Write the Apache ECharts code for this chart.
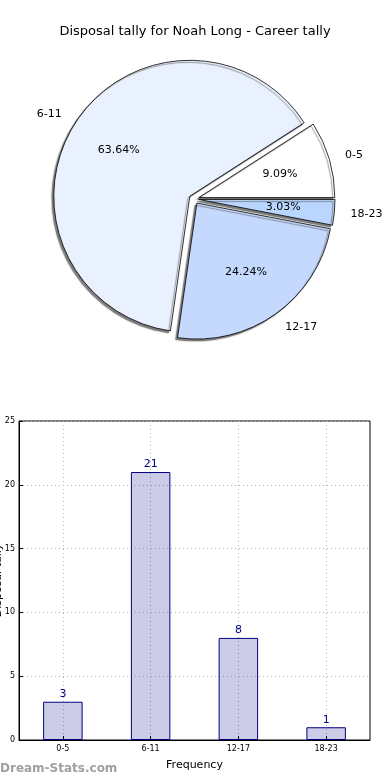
<!DOCTYPE html>
<html>
<head>
<meta charset="utf-8">
<script src="https://cdn.jsdelivr.net/npm/echarts@6/dist/echarts.min.js"></script>
<style>
html,body{margin:0;padding:0;background:#fff;}
#c{width:390px;height:780px;}
</style>
</head>
<body>
<div id="c"></div>
<script>
const categories = ['0-5', '6-11', '12-17', '18-23'];
const counts = [3, 21, 8, 1];
const sliceColors = ['#ffffff', '#eaf1fe', '#c5d9fe', '#b9d6fe'];
const yTicks = [0, 5, 10, 15, 20, 25];
const titleText = 'Disposal tally for Noah Long - Career tally';

const FONT = 'DejaVu Sans';
const chart = echarts.init(document.getElementById('c'), null, {renderer: 'canvas'});

const pieCenter = [194, 199];
const R = 136;
const pieData = categories.map((c, i) => ({
  name: c, value: counts[i], selected: true,
  itemStyle: {color: sliceColors[i]}
}));
const ghostData = categories.map((c, i) => ({
  name: c, value: counts[i], selected: true,
  itemStyle: {color: 'rgba(0,0,0,0)', borderWidth: 0, shadowBlur: 0}
}));

const common = {
  type: 'pie', center: pieCenter, startAngle: 0, clockwise: false,
  selectedMode: 'multiple', selectedOffset: 5, animation: false,
  avoidLabelOverlap: false, emphasis: {disabled: true}
};

chart.setOption({
  animation: false,
  title: {
    text: titleText, left: 'center', top: 20,
    textStyle: {fontFamily: FONT, fontSize: 13, fontWeight: 'normal', color: '#000'}
  },
  graphic: [{
    type: 'text', left: 0, top: 763,
    style: {text: 'Dream-Stats.com', fill: '#a0a0a0', font: 'bold 12px "DejaVu Sans"'}
  }],
  grid: {left: 19, right: 20, top: 421, bottom: 40, show: true, borderColor: '#000', borderWidth: 1,
    containLabel: false, outerBoundsMode: 'none'},
  xAxis: {
    type: 'category', data: categories,
    name: 'Frequency', nameLocation: 'middle', nameGap: 20,
    nameTextStyle: {fontFamily: FONT, fontSize: 11, color: '#000'},
    axisLine: {lineStyle: {color: '#000', width: 1}},
    axisTick: {show: true, inside: true, length: 4, alignWithLabel: true, lineStyle: {color: '#000'}},
    axisLabel: {fontFamily: FONT, fontSize: 8, color: '#000', margin: 5},
    splitLine: {show: true, alignWithLabel: true, lineStyle: {color: '#b8b8b8', type: [1, 3], width: 1}}
  },
  yAxis: {
    type: 'value', min: 0, max: 25, interval: 5,
    name: 'Disposal tally', nameLocation: 'middle', nameGap: 15, nameRotate: 90,
    nameMoveOverlap: false,
    nameTextStyle: {fontFamily: FONT, fontSize: 11, color: '#000'},
    axisLine: {show: true, lineStyle: {color: '#000', width: 1}},
    axisTick: {show: true, inside: true, length: 4, lineStyle: {color: '#000'}},
    axisLabel: {fontFamily: FONT, fontSize: 8, color: '#000', margin: 4,
      formatter: v => yTicks.includes(v) ? String(v) : ''},
    splitLine: {show: true, lineStyle: {color: '#b8b8b8', type: [1, 3], width: 1}}
  },
  series: [
    Object.assign({}, common, {
      name: 'pie', radius: [0, R], data: pieData,
      label: {show: false}, labelLine: {show: false},
      itemStyle: {borderColor: '#000', borderWidth: 0.8,
        shadowColor: 'rgba(80,80,80,0.75)', shadowBlur: 1, shadowOffsetX: -2, shadowOffsetY: 2}
    }),
    Object.assign({}, common, {
      name: 'pct', radius: [0.2 * R, R], data: ghostData, silent: true,
      label: {show: true, position: 'inside', formatter: '{d}%',
        fontFamily: FONT, fontSize: 11, color: '#000'},
      labelLine: {show: false}
    }),
    Object.assign({}, common, {
      name: 'names', radius: [0, R], data: ghostData, silent: true,
      label: {show: true, position: 'outside', formatter: '{b}',
        fontFamily: FONT, fontSize: 11, color: '#000', distanceToLabelLine: 0},
      labelLine: {show: false, length: 0.12 * R, length2: 0}
    }),
    {
      type: 'bar', data: counts, barWidth: '45%',
      itemStyle: {color: 'rgba(0,0,128,0.2)', borderColor: '#000080', borderWidth: 1},
      label: {show: true, position: 'top', distance: 2, fontFamily: FONT, fontSize: 11, color: '#000080'},
      emphasis: {disabled: true}
    }
  ]
});
</script>
</body>
</html>
